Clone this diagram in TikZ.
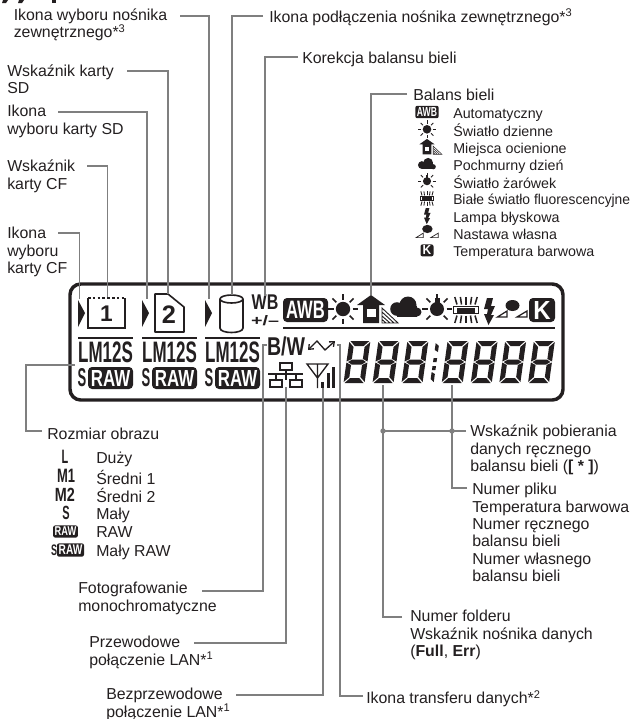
\documentclass[tikz,border=0pt]{standalone}
\usepackage{fontspec}
\usepackage{graphicx}
\setmainfont{Liberation Sans}
\usetikzlibrary{arrows.meta,positioning,calc}

\definecolor{ink}{HTML}{231F20}
\definecolor{leadc}{HTML}{7F7F7F}
\newcommand{\mainsz}{\fontsize{11.9}{13}\selectfont}
\newcommand{\legsz}{\fontsize{10.7}{13}\selectfont}
\newcommand{\cond}[3]{\resizebox{#1pt}{#2pt}{\bfseries #3}}
\def\raywd{1.15pt}
\def\cornr{3pt}

\tikzset{
  lbl/.style={anchor=north west,inner sep=0pt,align=left,text=ink,font=\mainsz,execute at begin node=\strut},
  legtxt/.style={lbl,font=\legsz},
  lead/.style={draw=leadc,line width=0.9pt},
  blob/.style={inner sep=0pt,text=ink},
  inv/.style={inner sep=0pt,text=white,transform shape},
  ray/.style={draw=ink,line width=\raywd},
  seg/.style={fill=ink,draw=none},
  pics/sunicon/.style={code={
    \fill[ink] (0,0) circle (7.2);
    \foreach \a in {0,45,...,315} \draw[ray] (\a:9.5) -- (\a:15);
  }},
  pics/awbicon/.style={code={
    \fill[ink,rounded corners=\cornr] (-22.5,-12) rectangle (22.5,12);
    \node[inv] (awbtxt) at (0,0) {\cond{29}{13}{AWB}};
  }},
  pics/houseicon/.style={code={
    \fill[ink] (0,-14) -- (14,-4) -- (8,-4) -- (8,14) -- (-8,14) -- (-8,-4) -- (-14,-4) -- cycle;
    \fill[white] (-4.5,0) rectangle (4.5,8);
    \draw[ray,line width=0.6*\raywd] (11,-1) -- (27,14) -- (11,14) -- cycle (11,3) -- (23,14) (11,7) -- (19,14) (11,10.5) -- (15,14);
  }},
  pics/cloudicon/.style={code={
    \fill[ink] (2,-2) circle (8.5);
    \fill[ink] (-9,2) circle (6.8);
    \fill[ink] (11,5) circle (4.5);
    \fill[ink] (-9,-1) rectangle (11,9.5);
  }},
  pics/bulbicon/.style={code={
    \fill[ink] (0,0) circle (7);
    \fill[ink] (-2.5,-11) rectangle (2.5,-3);
    \foreach \a in {0,-45,-90,-135,180,45,135} \draw[ray] (\a:9.5) -- (\a:15);
  }},
  pics/fluoicon/.style={code={
    \draw[ray] (-12.5,-3.5) rectangle (12.5,3.5);
    \fill[ink] (-9,-2.5) rectangle (9,3);
    \foreach \d in {-2,-1,0,1,2} {
      \draw[ray] (4.5*\d,-5.5) -- (5.6*\d,-13);
      \draw[ray] (4.5*\d,5.5) -- (5.6*\d,13);
    }
  }},
  pics/flashicon/.style={code={
    \fill[ink] (-2,-13) -- (4,-13) -- (2,-5) -- (6,-5) -- (2,4) -- (5,4) -- (-0.5,14) -- (-5,3) -- (-2,3) -- (-1,-2) -- (-5,-2) -- cycle;
  }},
  pics/customicon/.style={code={
    \fill[ink] (0.5,-5.5) ellipse[x radius=7,y radius=5.5];
    \draw[ray,line width=0.8*\raywd] (-14.5,6) -- (-5,0) -- (-5,6) -- cycle (15,0) -- (15,6) -- (5,6) -- cycle;
  }},
  pics/kicon/.style={code={
    \fill[ink,rounded corners=\cornr] (-13,-12) rectangle (13,12);
    \node[inv] (ktxt) at (0,0) {\cond{13}{13.5}{K}};
  }},
  pics/rawicon/.style={code={
    \fill[ink,rounded corners=\cornr] (-22.5,-11) rectangle (22.5,11);
    \node[inv] (rawtxt) at (0,0) {\cond{29.5}{12}{RAW}};
  }},
  pics/digit/.style={code={
    \fill[seg] (1,0) -- (20,0) -- (15,5) -- (6,5) -- cycle;
    \fill[seg] (0,1) -- (5,6) -- (5,18) -- (0,20.5) -- cycle;
    \fill[seg] (21,1) -- (16,6) -- (16,18) -- (21,20.5) -- cycle;
    \fill[seg] (1.5,21) -- (5.5,18.5) -- (15.5,18.5) -- (19.5,21) -- (15.5,23.5) -- (5.5,23.5) -- cycle;
    \fill[seg] (0,21.5) -- (5,24) -- (5,36) -- (0,41) -- cycle;
    \fill[seg] (21,21.5) -- (16,24) -- (16,36) -- (21,41) -- cycle;
    \fill[seg] (1,42) -- (20,42) -- (15,37) -- (6,37) -- cycle;
  }}
}

\begin{document}
\begin{tikzpicture}[x=0.75pt,y=-0.75pt]
\useasboundingbox (0,0) rectangle (634,719);

% heading cut by the page edge
\fill[ink] (3,0) -- (8,0) -- (6,3) -- (2,3) -- cycle;
\fill[ink] (19,0) -- (24,0) -- (22,3) -- (18,3) -- cycle;
\fill[ink] (52,0) rectangle (55.5,3);

% panel
\draw[ink,line width=2.6pt,rounded corners=8pt] (70,284) rectangle (563,400);
\draw[ink,line width=1.9pt] (283,328) -- (555,328);

\foreach \gx in {0,64,127} {
  \fill[ink] (78+\gx,300) -- (85+\gx,313) -- (78+\gx,327) -- cycle;
  \draw[ink,line width=1pt] (78+\gx,338) -- (133+\gx,338);
  \node[blob] (lm\gx) at (105.5+\gx,352.5) {\cond{41}{15.5}{LM12S}};
  \node[blob] (s\gx) at (82+\gx,378) {\cond{6.5}{13.5}{S}};
  \pic at (110.5+\gx,378) {rawicon};
}

\node[blob] (cfcard) at (106.5,313.5) {\fontsize{17}{17}\selectfont\bfseries 1};
\draw[ink,line width=1.2pt] (88,298) -- (88,328) -- (125,328) -- (125,298);
\draw[ink,line width=1.6pt,dash pattern=on 2pt off 1.6pt] (88,298) -- (125,298);
\node[blob] (sdcard) at (169,315) {\fontsize{19}{19}\selectfont\bfseries 2};
\draw[ink,line width=1.2pt,line join=round] (155,294) -- (168,294) -- (184,307) -- (184,332) -- (155,332) -- cycle;
\draw[ink,line width=1.2pt] (220,299) -- (220,328) .. controls (220,334) and (243,334) .. (243,328) -- (243,299);
\draw[ink,line width=1.2pt] (231.5,299) ellipse[x radius=11.5,y radius=4];
\node[blob] (wbmark) at (265,302.5) {\cond{20}{11}{WB}};
\node[blob] (wbpm) at (265,321) {\cond{21}{7.5}{+/–}};

\pic at (305.5,310) {awbicon};
\pic at (343,309) {sunicon};
\pic at (371,309) {houseicon};
\pic at (406,307) {cloudicon};
\pic at (437,309) {bulbicon};
\pic at (466,310) {fluoicon};
\pic at (489,311) {flashicon};
\pic at (512,311) {customicon};
\pic at (542,310) {kicon};

\node[blob] (bwmark) at (286,346) {\cond{28.5}{14}{B/W}};
\draw[ink,line width=1pt,{Straight Barb[length=3pt,width=5pt]}-{Straight Barb[length=3pt,width=5pt]}] (308,350) -- (317,341) -- (325,350) -- (335,341);

\draw[ink,line width=0.8pt] (280,363) rectangle (292,370);
\draw[ink,line width=0.8pt] (270,380) rectangle (282,387);
\draw[ink,line width=0.8pt] (290,380) rectangle (302,387);
\draw[ink,line width=0.8pt] (286,370) -- (286,380) (268,374) -- (303,374) (276,374) -- (276,380) (296,374) -- (296,380);

\draw[ink,line width=1pt] (307,364) -- (328,364) -- (317.5,378) -- cycle (317.5,364) -- (317.5,388);
\fill[ink] (321,382) rectangle (324,388);
\fill[ink] (326.5,373) rectangle (329.5,388);
\fill[ink] (332,367) rectangle (335,388);

\foreach \dx in {349.4,378.4,407.4,447.6,476.6,505.2,533.9}
  \pic[xslant=0.14] at (\dx,341) {digit};
\begin{scope}[shift={(436,341)},xslant=0.14]
\fill[seg] (0,2) -- (3.5,5) -- (3.5,11) -- (0,9) -- cycle;
\fill[seg] (0,17) rectangle (3.5,21);
\fill[seg] (0,25) rectangle (3.5,29);
\fill[seg] (0,31) -- (3.5,33) -- (3.5,41) -- (0,38) -- cycle;
\end{scope}

% labels above
\node[lbl] (nosext) at (13.5,8.7) {Ikona wyboru nośnika\\zewnętrznego*\textsuperscript{3}};
\node[lbl] (wsksd) at (7,64.7) {Wskaźnik karty\\SD};
\node[lbl] (iksd) at (7,105) {Ikona\\wyboru karty SD};
\node[lbl] (wskcf) at (7,160) {Wskaźnik\\karty CF};
\node[lbl] (ikcf) at (7,227) {Ikona\\wyboru\\karty CF};
\node[lbl] (podl) at (269,8.7) {Ikona podłączenia nośnika zewnętrznego*\textsuperscript{3}};
\node[lbl] (korek) at (302,51) {Korekcja balansu bieli};
\node[lbl] (balans) at (413,88) {Balans bieli};

\foreach \ic/\sc/\tx [count=\i] in {awbicon/0.52/Automatyczny,sunicon/0.6/Światło dzienne,houseicon/0.55/Miejsca ocienione,cloudicon/0.57/Pochmurny dzień,bulbicon/0.58/Światło żarówek,fluoicon/0.55/\scalebox{0.97}[1]{Białe światło fluorescencyjne},flashicon/0.6/Lampa błyskowa,customicon/0.75/Nastawa własna,kicon/0.5/Temperatura barwowa} {
  \def\raywd{0.65pt}
  \def\cornr{1.5pt}
  \pic[scale=\sc] at (427,94.7+17.3*\i) {\ic};
  \node[legtxt] (wbrow\i) at (453,88.7+17.3*\i) {\tx};
}

% labels below
\node[lbl] (rozm) at (47,427) {Rozmiar obrazu};
\foreach \tx [count=\i] in {Duży,Średni 1,Średni 2,Mały,RAW,Mały RAW}
  \node[lbl] (sizerow\i) at (96,432.4+18.6*\i) {\tx};
\node[blob] (sizeL) at (65,457) {\cond{5}{10}{L}};
\node[blob] (sizeMa) at (66,476) {\cond{13.5}{10}{M1}};
\node[blob] (sizeMb) at (65,495) {\cond{15}{10}{M2}};
\node[blob] (sizeS) at (66,513) {\cond{5.5}{10}{S}};
\def\cornr{1.5pt}
\pic[scale=0.55] at (65.5,531.5) {rawicon};
\node[blob] (sizeSr) at (54,550) {\cond{4.5}{8}{S}};
\pic[scale=0.6] at (70.5,550) {rawicon};

\node[lbl] (foto) at (78,582) {Fotografowanie\\monochromatyczne};
\node[lbl] (przew) at (89,636) {Przewodowe\\połączenie LAN*\textsuperscript{1}};
\node[lbl] (bezp) at (106,688) {Bezprzewodowe\\połączenie LAN*\textsuperscript{1}};
\node[lbl] (pobier) at (470,425) {Wskaźnik pobierania\\danych ręcznego\\balansu bieli (\textbf{[ * ]})};
\node[lbl] (plik) at (472,483) {Numer pliku\\Temperatura barwowa\\Numer ręcznego\\balansu bieli\\Numer własnego\\balansu bieli};
\node[lbl] (folder) at (410,610) {Numer folderu\\Wskaźnik nośnika danych\\(\textbf{Full}, \textbf{Err})};
\node[lbl] (transf) at (366,690) {Ikona transferu danych*\textsuperscript{2}};

% connector ends on the panel
\coordinate (selcf) at (79.5,299);
\coordinate (markcf) at (107.5,297);
\coordinate (selsd) at (147,299);
\coordinate (marksd) at (168,294);
\coordinate (selext) at (209,299);
\coordinate (cyl) at (232,295);
\coordinate (wbtop) at (265,296);
\coordinate (house) at (371,295);
\coordinate (rawleft) at (75,365);
\coordinate (bwtick) at (267,345);
\coordinate (lanfoot) at (286,387);
\coordinate (antfoot) at (323,388);
\coordinate (arrtick) at (337,345);
\coordinate (folderdig) at (383,385);
\coordinate (filedig) at (452,385);

\draw[lead] ([shift={(51,6)}]ikcf.north west) -| (selcf);
\draw[lead] ([shift={(80,6)}]wskcf.north west) -| (markcf);
\draw[lead] ([shift={(51,7)}]iksd.north west) -| (selsd);
\draw[lead] ([shift={(120,6.3)}]wsksd.north west) -| (marksd);
\draw[lead] ([shift={(166.5,7.3)}]nosext.north west) -| (selext);
\draw[lead] ([shift={(-6,7.3)}]podl.north west) -| (cyl);
\draw[lead] ([shift={(-4,6)}]korek.north west) -| (wbtop);
\draw[lead] ([shift={(-6,6)}]balans.north west) -| (house);

\draw[lead] (rawleft) -- (26,365) |- ([shift={(-5,4)}]rozm.north west);
\draw[lead] ([shift={(124,9)}]foto.north west) -| (263,345) -- (bwtick);
\draw[lead] ([shift={(105,7)}]przew.north west) -| (lanfoot);
\draw[lead] ([shift={(130,7)}]bezp.north west) -| (antfoot);
\draw[lead] ([shift={(-3,6)}]transf.north west) -| (340,345) -- (arrtick);
\draw[lead] ([shift={(-8,7)}]folder.north west) -| (folderdig);
\draw[lead] ([shift={(-5,5)}]plik.north west) -| (filedig);
\draw[lead] ([shift={(-4,6)}]pobier.north west) -- (folderdig |- 0,431);
\fill[leadc] (folderdig |- 0,431) circle (2.7);
\fill[leadc] (filedig |- 0,431) circle (2.7);
\end{tikzpicture}
\end{document}
